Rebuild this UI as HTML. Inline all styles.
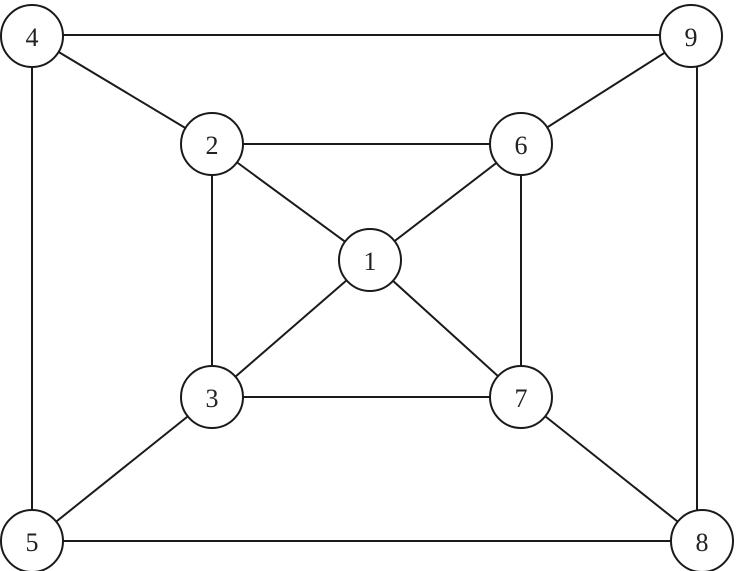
<!DOCTYPE html>
<html><head><style>html,body{margin:0;padding:0;background:#fff;}svg{display:block}</style></head>
<body>
<svg width="738" height="571" viewBox="0 0 738 571" xmlns="http://www.w3.org/2000/svg">
<g stroke="#1a1a1a" stroke-width="2" fill="none">
<line x1="32" y1="35" x2="691" y2="35"/>
<line x1="32" y1="36" x2="32" y2="541"/>
<line x1="32" y1="36" x2="212" y2="144"/>
<line x1="691" y1="36" x2="521" y2="144"/>
<line x1="697" y1="60" x2="697" y2="515"/>
<line x1="212" y1="144" x2="521" y2="144"/>
<line x1="212" y1="144" x2="212" y2="397"/>
<line x1="212" y1="144" x2="370" y2="260"/>
<line x1="521" y1="144" x2="370" y2="260"/>
<line x1="521" y1="144" x2="521" y2="397"/>
<line x1="370" y1="260" x2="212" y2="397"/>
<line x1="370" y1="260" x2="521" y2="397"/>
<line x1="212" y1="397" x2="521" y2="397"/>
<line x1="212" y1="397" x2="32" y2="541"/>
<line x1="521" y1="397" x2="702" y2="541"/>
<line x1="32" y1="541" x2="702" y2="541"/>
</g>
<g stroke="#1a1a1a" stroke-width="2" fill="#fff">
<circle cx="32" cy="36" r="31"/><circle cx="691" cy="36" r="31"/>
<circle cx="212" cy="144" r="31"/><circle cx="521" cy="144" r="31"/>
<circle cx="370" cy="260" r="31"/>
<circle cx="212" cy="397" r="31"/><circle cx="521" cy="397" r="31"/>
<circle cx="32" cy="541" r="31"/><circle cx="702" cy="541" r="31"/>
</g>
<g font-family="Liberation Serif, serif" font-size="26" fill="#222" text-anchor="middle">
<text x="32" y="46">4</text><text x="691" y="46">9</text>
<text x="212" y="154">2</text><text x="521" y="154">6</text>
<text x="370" y="270">1</text>
<text x="212" y="407">3</text><text x="521" y="407">7</text>
<text x="32" y="551">5</text><text x="702" y="551">8</text>
</g>
</svg>
</body></html>
